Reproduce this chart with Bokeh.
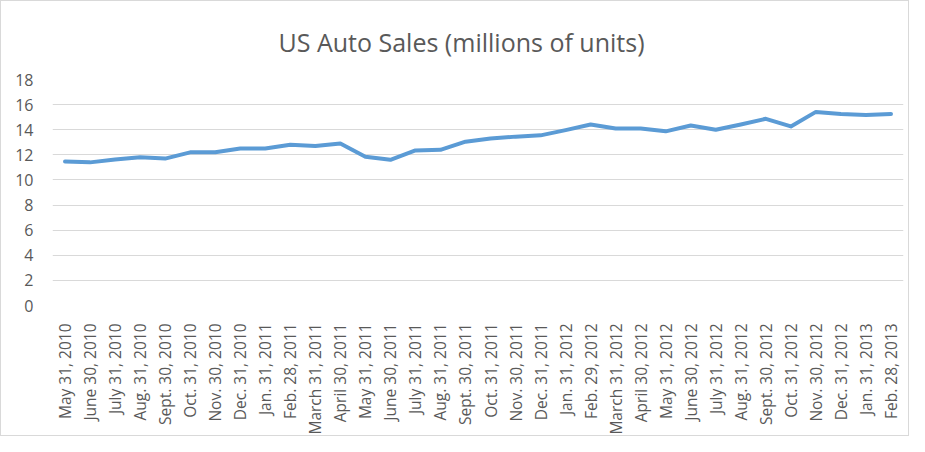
from bokeh.plotting import figure
from bokeh.models import FactorRange, Range1d, FixedTicker, Title
from bokeh.embed import file_html
from bokeh.resources import INLINE
from math import pi

dates = ["May 31, 2010", "June 30, 2010", "July 31, 2010", "Aug. 31, 2010", "Sept. 30, 2010",
         "Oct. 31, 2010", "Nov. 30, 2010", "Dec. 31, 2010", "Jan. 31, 2011", "Feb. 28, 2011",
         "March 31, 2011", "April 30, 2011", "May 31, 2011", "June 30, 2011", "July 31, 2011",
         "Aug. 31, 2011", "Sept. 30, 2011", "Oct. 31, 2011", "Nov. 30, 2011", "Dec. 31, 2011",
         "Jan. 31, 2012", "Feb. 29, 2012", "March 31, 2012", "April 30, 2012", "May 31, 2012",
         "June 30, 2012", "July 31, 2012", "Aug. 31, 2012", "Sept. 30, 2012", "Oct. 31, 2012",
         "Nov. 30, 2012", "Dec. 31, 2012", "Jan. 31, 2013", "Feb. 28, 2013"]
sales = [11.47, 11.4, 11.63, 11.8, 11.7, 12.2, 12.2, 12.5, 12.5, 12.8,
         12.7, 12.9, 11.85, 11.6, 12.35, 12.4, 13.05, 13.3, 13.45, 13.55,
         13.97, 14.42, 14.1, 14.1, 13.87, 14.34, 14.0, 14.42, 14.87, 14.26,
         15.42, 15.26, 15.18, 15.26]
y_ticks = [0, 2, 4, 6, 8, 10, 12, 14, 16, 18]
title_text = "US Auto Sales (millions of units)"

text_color = "#595959"
font = "Open Sans"

p = figure(x_range=FactorRange(*dates), y_range=Range1d(0, 18),
           width=909, height=436, output_backend="svg", toolbar_location=None,
           min_border_left=51, min_border_right=7, min_border_top=78, min_border_bottom=130)

p.title = Title(text=title_text, align="left", offset=226, vertical_align="middle",
                text_font=font, text_font_size="25px", text_font_style="normal",
                text_color=text_color, standoff=40)

p.line(x=dates, y=sales, line_width=4, line_color="#5b9bd5",
       line_cap="round", line_join="round")

p.outline_line_color = None
p.xgrid.grid_line_color = None
p.ygrid.grid_line_color = "#d9d9d9"
p.ygrid.grid_line_width = 1

p.yaxis.ticker = FixedTicker(ticks=y_ticks)
p.yaxis.axis_line_color = None
p.yaxis.major_tick_line_color = None
p.yaxis.minor_tick_line_color = None
p.yaxis.major_label_text_font = font
p.yaxis.major_label_text_font_size = "16px"
p.yaxis.major_label_text_color = text_color
p.yaxis.major_label_standoff = 13

p.xaxis.axis_line_color = None
p.xaxis.major_tick_line_color = None
p.xaxis.major_label_orientation = pi / 2
p.xaxis.major_label_text_font = font
p.xaxis.major_label_text_font_size = "15.5px"
p.xaxis.major_label_text_color = text_color
p.xaxis.major_label_standoff = 12

p.styles = {"border": "1px solid #d9d9d9", "box-sizing": "border-box"}

open("out.html", "w").write(file_html(p, INLINE))
